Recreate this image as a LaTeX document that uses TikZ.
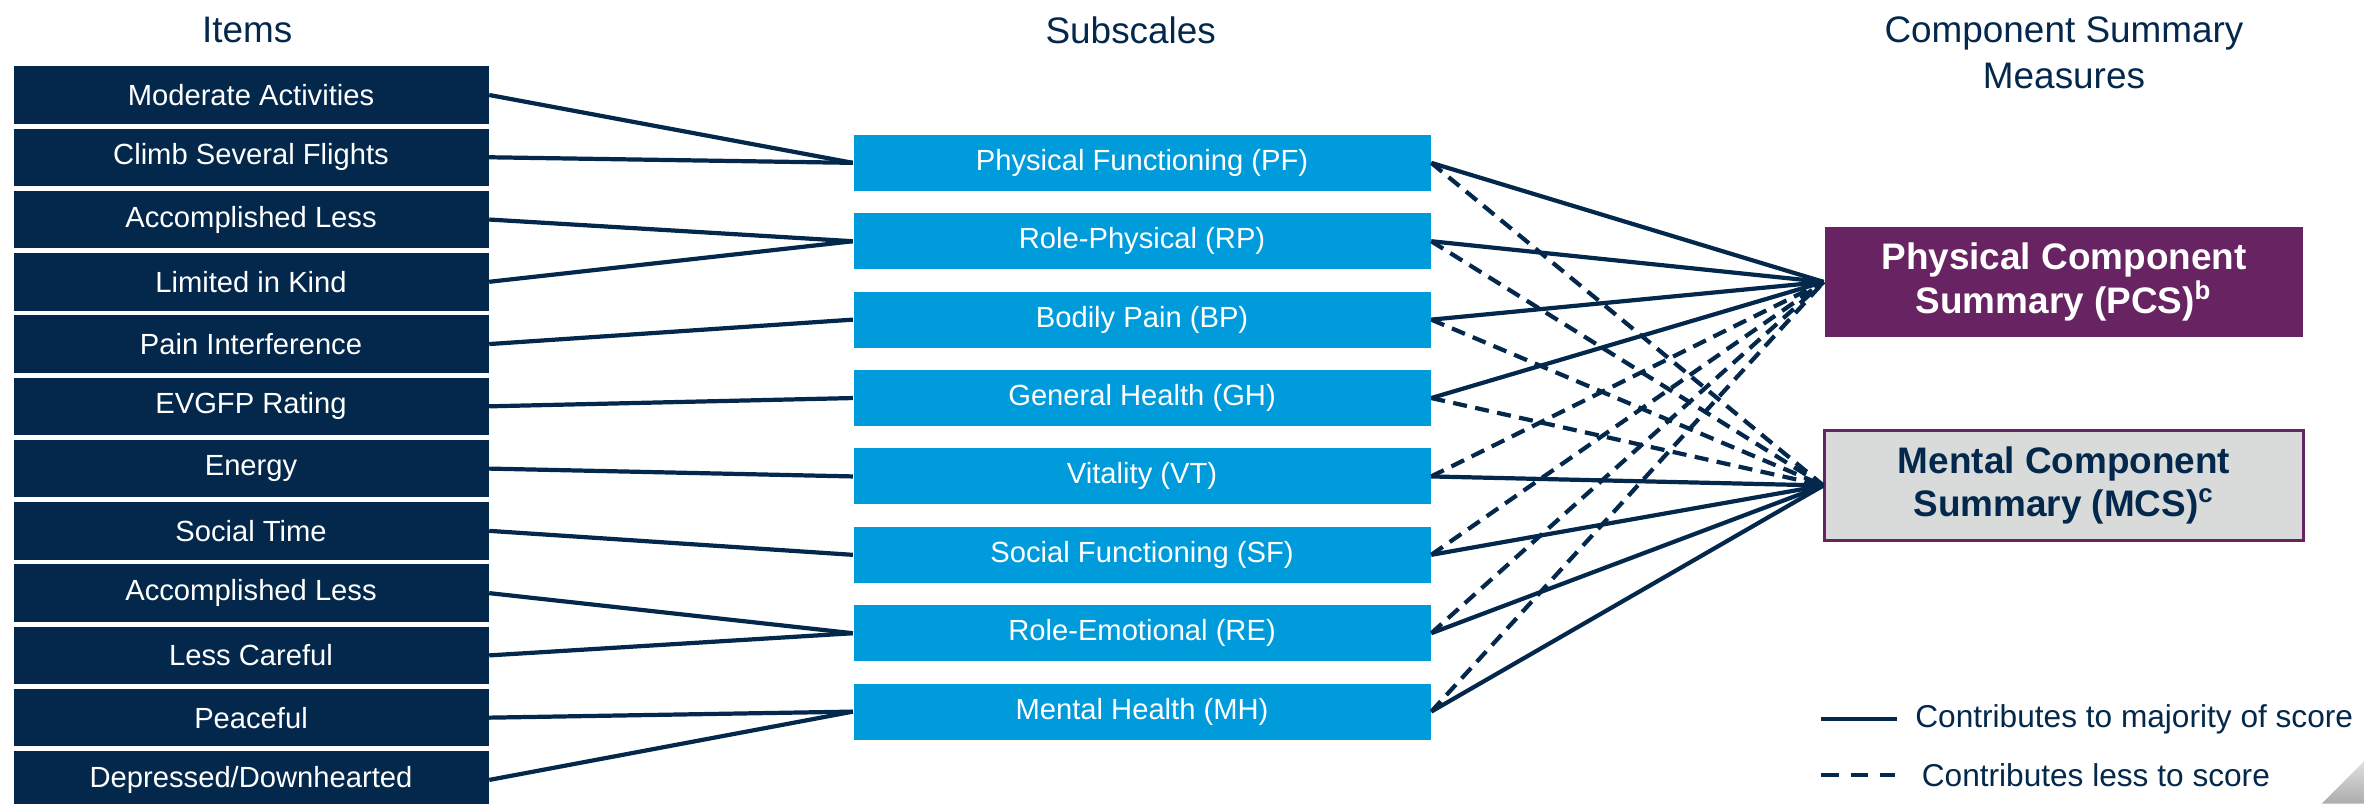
\documentclass[tikz,border=0pt]{standalone}
\usepackage{fontspec}
\setmainfont{Liberation Sans}
\usepackage{xcolor}
\usetikzlibrary{positioning}
\definecolor{navy}{RGB}{3,40,76}
\definecolor{sky}{RGB}{0,155,219}
\definecolor{plum}{RGB}{104,36,98}
\definecolor{paleg}{RGB}{217,218,218}
\tikzset{
	item/.style={rectangle, fill=navy, text=white, minimum width=47.5mm, minimum height=5.75mm, inner sep=0, font=\fontsize{8.3}{10}\selectfont},
	sub/.style={rectangle, fill=sky, text=white, minimum width=57.7mm, minimum height=5.6mm, inner sep=0, font=\fontsize{8.3}{10}\selectfont},
	csm/.style={rectangle, minimum width=47.9mm, minimum height=11mm, inner sep=0, align=center, font=\fontsize{10.5}{12.4}\selectfont\bfseries},
	head/.style={text=navy, align=center, font=\fontsize{10.5}{12.9}\selectfont},
	legtext/.style={text=navy, inner sep=0, font=\fontsize{9}{11}\selectfont},
	major/.style={draw=navy, line width=1.2pt},
	minor/.style={major, dash pattern=on 4pt off 2.4pt}
}
\begin{document}
\begin{tikzpicture}[x=0.15077mm, y=-0.15077mm]
\useasboundingbox (0,0) rectangle (1568,533);
\node[head] (hitems) at (164,20) {Items};
\node[head] (hsub) at (750,20) {Subscales};
\node[head] (hcsm) at (1369,35) {Component Summary\\Measures};
\foreach \i/\t in {1/Moderate Activities,2/Climb Several Flights,3/Accomplished Less,4/Limited in Kind,5/Pain Interference,6/EVGFP Rating,7/Energy,8/Social Time,9/Accomplished Less,10/Less Careful,11/Peaceful,12/{Depressed/Downhearted}} {
	\node[item] (a\i) at (166.5, {63+41.3*(\i-1)}) {\t};
};
\foreach \s/\t [count=\k] in {pf/Physical Functioning (PF),rp/Role-Physical (RP),bp/Bodily Pain (BP),gh/General Health (GH),vt/Vitality (VT),sf/Social Functioning (SF),re/Role-Emotional (RE),mh/Mental Health (MH)} {
	\node[sub] (\s) at (757.5, {108+52*(\k-1)}) {\t};
};
\node[csm, fill=plum, text=white] (pcs) at (1369,187) {Physical Component\\Summary (PCS)\textsuperscript{b}};
\node[csm, fill=paleg, draw=plum, line width=0.6pt, text=navy] (mcs) at (1369,322) {Mental Component\\Summary (MCS)\textsuperscript{c}};
\foreach \i/\s in {1/pf,2/pf,3/rp,4/rp,5/bp,6/gh,7/vt,8/sf,9/re,10/re,11/mh,12/mh} {
	\draw[major] (a\i.east) -- (\s.west);
};
\foreach \s in {pf,rp,bp,gh} {
	\draw[major] (\s.east) -- (pcs.west);
	\draw[minor] (\s.east) -- (mcs.west);
};
\foreach \s in {vt,sf,re,mh} {
	\draw[minor] (\s.east) -- (pcs.west);
	\draw[major] (\s.east) -- (mcs.west);
};
\coordinate (s1) at (1208,477);
\coordinate (e1) at (1258,477);
\coordinate (s2) at (1208,514);
\coordinate (e2) at (1257,514);
\node[legtext, right=1.8mm of e1] (lmajor) {Contributes to majority of score};
\node[legtext, right=2.6mm of e2] (lminor) {Contributes less to score};
\draw[major] (s1) -- (e1);
\draw[major, dash pattern=on 5pt off 3.4pt] (s2) -- (e2);
\shade[top color=gray!25, bottom color=gray!65] (1540,533) -- (1568,505) -- (1568,533) -- cycle;
\end{tikzpicture}
\end{document}
